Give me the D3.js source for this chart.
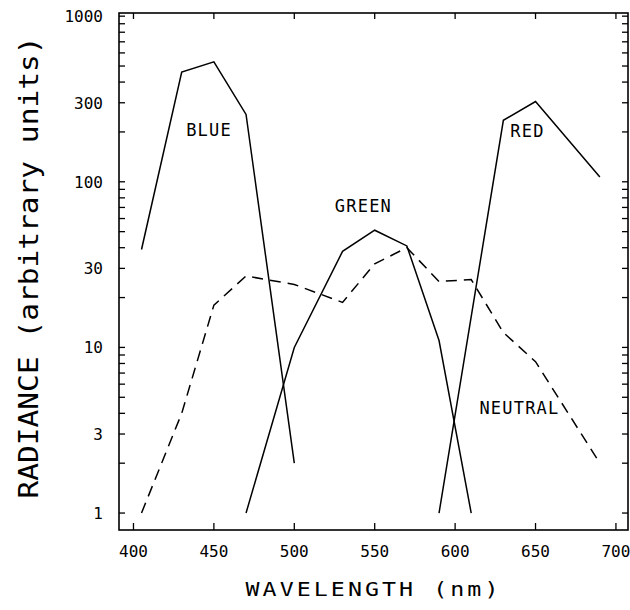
<!DOCTYPE html>
<html>
<head>
<meta charset="utf-8">
<script src="https://cdn.jsdelivr.net/npm/d3@7"></script>
<style>
  body { margin: 0; background: #fff; }
  svg { display: block; }
  text { font-family: "DejaVu Sans Mono", monospace; fill: #000; }
</style>
</head>
<body>
<div id="chart"></div>
<script>
// Radiance spectra of the three primaries and a neutral
const blueWl = [405, 430, 450, 470, 500];
const blueVal = [39, 460, 530, 255, 2];

const greenWl = [470, 500, 530, 550, 570, 590, 610];
const greenVal = [1, 10, 38, 51, 41, 11, 1];

const redWl = [590, 630, 650, 690];
const redVal = [1, 235, 305, 107];

const neutralWl = [405, 430, 450, 470, 500, 530, 550, 570, 590, 610, 630, 650, 690];
const neutralVal = [1, 4, 18, 27, 24, 18.7, 32, 40, 25, 25.7, 12.3, 8.2, 2];

const xTicks = [400, 450, 500, 550, 600, 650, 700];
const yLabelTicks = [1, 3, 10, 30, 100, 300, 1000];

// Curve labels: [text, wavelength, radiance]
const curveLabels = [
  ['BLUE', 447, 207],
  ['GREEN', 543, 72],
  ['RED', 645, 203],
  ['NEUTRAL', 640, 4.3]
];

const width = 630;
const height = 610;
const margin = { top: 13, right: 2, bottom: 80, left: 119 };

const svg = d3.select('#chart')
  .append('svg')
  .attr('width', width)
  .attr('height', height);

const x = d3.scaleLinear()
  .domain([391, 707.5])
  .range([margin.left, width - margin.right]);

const y = d3.scaleLog()
  .domain([0.79, 1045])
  .range([height - margin.bottom, margin.top]);

const [x0, x1] = x.range();
const [y0, y1] = y.range();

// Minor ticks at 1..9 of each decade
const yTicks = [];
for (let p = 0; p < 3; p++) {
  for (let m = 1; m < 10; m++) yTicks.push(m * Math.pow(10, p));
}
yTicks.push(1000);

// Frame
svg.append('rect')
  .attr('x', x0)
  .attr('y', y1)
  .attr('width', x1 - x0)
  .attr('height', y0 - y1)
  .attr('fill', 'none')
  .attr('stroke', '#000')
  .attr('stroke-width', 1.6);

const tickG = svg.append('g')
  .attr('stroke', '#000')
  .attr('stroke-width', 1.3);

// Bottom and top ticks, pointing inward
tickG.selectAll('.xb')
  .data(xTicks)
  .join('line')
  .attr('class', 'xb')
  .attr('x1', d => x(d)).attr('x2', d => x(d))
  .attr('y1', y0).attr('y2', y0 - 7);

tickG.selectAll('.xt')
  .data(xTicks)
  .join('line')
  .attr('class', 'xt')
  .attr('x1', d => x(d)).attr('x2', d => x(d))
  .attr('y1', y1).attr('y2', y1 + 6);

// Left and right ticks
tickG.selectAll('.yl')
  .data(yTicks)
  .join('line')
  .attr('class', 'yl')
  .attr('x1', x0).attr('x2', x0 + 6)
  .attr('y1', d => y(d)).attr('y2', d => y(d));

tickG.selectAll('.yr')
  .data(yTicks)
  .join('line')
  .attr('class', 'yr')
  .attr('x1', x1).attr('x2', x1 - 6)
  .attr('y1', d => y(d)).attr('y2', d => y(d));

// Tick labels
svg.selectAll('.xlab')
  .data(xTicks)
  .join('text')
  .attr('class', 'xlab')
  .attr('x', d => x(d))
  .attr('y', y0 + 27)
  .attr('text-anchor', 'middle')
  .attr('font-size', 16)
  .text(d => d);

svg.selectAll('.ylab')
  .data(yLabelTicks)
  .join('text')
  .attr('class', 'ylab')
  .attr('x', x0 - 16)
  .attr('y', d => y(d))
  .attr('dy', '0.36em')
  .attr('text-anchor', 'end')
  .attr('font-size', 16)
  .text(d => d);

// Axis titles
svg.append('text')
  .attr('x', (x0 + x1) / 2)
  .attr('y', y0 + 66)
  .attr('text-anchor', 'middle')
  .attr('font-size', 19)
  .attr('letter-spacing', 2.5)
  .attr('textLength', 256)
  .attr('lengthAdjust', 'spacingAndGlyphs')
  .text('WAVELENGTH (nm)');

svg.append('text')
  .attr('transform', `translate(38,${(y0 + y1) / 2 - 4}) rotate(-90)`)
  .attr('text-anchor', 'middle')
  .attr('font-size', 26)
  .attr('textLength', 462)
  .attr('lengthAdjust', 'spacingAndGlyphs')
  .text('RADIANCE (arbitrary units)');

// Curves
const line = d3.line()
  .x(d => x(d[0]))
  .y(d => y(d[1]));

const series = [
  { wl: blueWl, val: blueVal, dash: null },
  { wl: greenWl, val: greenVal, dash: null },
  { wl: redWl, val: redVal, dash: null },
  { wl: neutralWl, val: neutralVal, dash: '11,7' }
];

svg.append('g')
  .selectAll('path')
  .data(series)
  .join('path')
  .attr('d', s => line(d3.zip(s.wl, s.val)))
  .attr('fill', 'none')
  .attr('stroke', '#000')
  .attr('stroke-width', 1.5)
  .attr('stroke-dasharray', s => s.dash);

svg.selectAll('.clab')
  .data(curveLabels)
  .join('text')
  .attr('class', 'clab')
  .attr('x', d => x(d[1]))
  .attr('y', d => y(d[2]))
  .attr('dy', '0.36em')
  .attr('text-anchor', 'middle')
  .attr('font-size', 17)
  .attr('letter-spacing', 1.2)
  .text(d => d[0]);
</script>
</body>
</html>
